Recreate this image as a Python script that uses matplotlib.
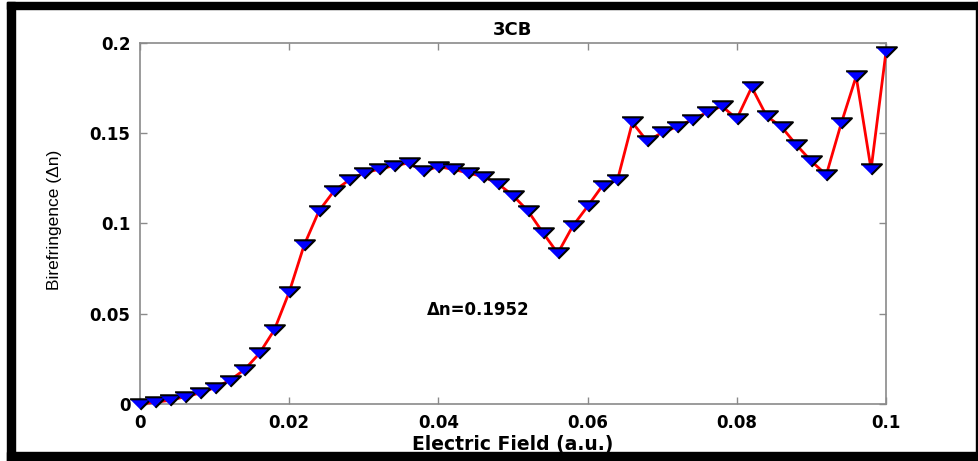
import numpy as np
import matplotlib
matplotlib.use('Agg')
import matplotlib.pyplot as plt
from matplotlib.patches import Rectangle

#=====Data=====
field = [0.000, 0.002, 0.004, 0.006, 0.008, 0.010, 0.012, 0.014, 0.016, 0.018,
         0.020, 0.022, 0.024, 0.026, 0.028, 0.030, 0.032, 0.034, 0.036, 0.038,
         0.040, 0.042, 0.044, 0.046, 0.048, 0.050, 0.052, 0.054, 0.056, 0.058,
         0.060, 0.062, 0.064, 0.066, 0.068, 0.070, 0.072, 0.074, 0.076, 0.078,
         0.080, 0.082, 0.084, 0.086, 0.088, 0.090, 0.092, 0.094, 0.096, 0.098,
         0.100]
biref = [0.000, 0.001, 0.002, 0.004, 0.006, 0.009, 0.013, 0.019, 0.028, 0.041,
         0.062, 0.088, 0.107, 0.118, 0.124, 0.128, 0.130, 0.132, 0.1335, 0.129,
         0.1315, 0.130, 0.128, 0.126, 0.122, 0.1155, 0.107, 0.095, 0.0835, 0.0985,
         0.1095, 0.121, 0.124, 0.156, 0.1455, 0.1505, 0.1535, 0.1575, 0.1615, 0.165,
         0.158, 0.1755, 0.1595, 0.1535, 0.1435, 0.1345, 0.127, 0.1555, 0.1815, 0.130,
         0.1952]

xticks = [0, 0.02, 0.04, 0.06, 0.08, 0.1]
xticklabels = ['0', '0.02', '0.04', '0.06', '0.08', '0.1']
yticks = [0, 0.05, 0.1, 0.15, 0.2]
yticklabels = ['0', '0.05', '0.1', '0.15', '0.2']
note = '\u0394n=0.1952'

#=====Figure and axes=====
W, H = 979, 461
fig = plt.figure(figsize=(W / 100, H / 100), dpi=100)
ax = fig.add_axes([140 / W, 1 - 404 / H, (886 - 140) / W, (404 - 43) / H])

#=====Outer black frame=====
for x0, y0, x1, y1 in [(7, 2, 979, 9), (7, 2, 15, 461), (7, 452, 979, 461), (976, 2, 978, 461)]:
    fig.patches.append(Rectangle((x0 / W, 1 - y1 / H), (x1 - x0) / W, (y1 - y0) / H,
                                 transform=fig.transFigure, color='black', zorder=10))

#=====Curve=====
tri = [(-1, 0.5), (1, 0.5), (0, -0.5)]
ax.plot(field, biref, color='red', lw=2, marker=tri, markersize=15,
        markerfacecolor='blue', markeredgecolor='black', markeredgewidth=1.5,
        clip_on=False, zorder=3)

ax.text(0.0384, 0.052, note, fontsize=12, fontweight='bold',
        family='DejaVu Sans', va='center', ha='left')

#=====Axis styling=====
ax.set_xlim(0, 0.1)
ax.set_ylim(0, 0.2)
ax.set_xticks(xticks)
ax.set_xticklabels(xticklabels)
ax.set_yticks(yticks)
ax.set_yticklabels(yticklabels)
for s in ax.spines.values():
    s.set_color('#8a8a8a')
    s.set_linewidth(1.2)
ax.tick_params(direction='in', length=5, width=1, color='#8a8a8a',
               top=True, right=True, labelsize=12, pad=7)
for lab in ax.get_xticklabels() + ax.get_yticklabels():
    lab.set_fontweight('bold')
    lab.set_family('DejaVu Sans')

ax.set_title('3CB', fontsize=13, fontweight='bold', family='DejaVu Sans', pad=6)
ax.set_xlabel('Electric Field (a.u.)', fontsize=13.5, fontweight='bold', family='DejaVu Sans')
ax.xaxis.set_label_coords(0.5, -0.085)
ax.set_ylabel('Birefringence (\u0394n)', fontsize=12.5, family='Liberation Sans')
ax.yaxis.set_label_coords(-0.105, 0.51)

fig.savefig('out.png', dpi=100, facecolor='white')
